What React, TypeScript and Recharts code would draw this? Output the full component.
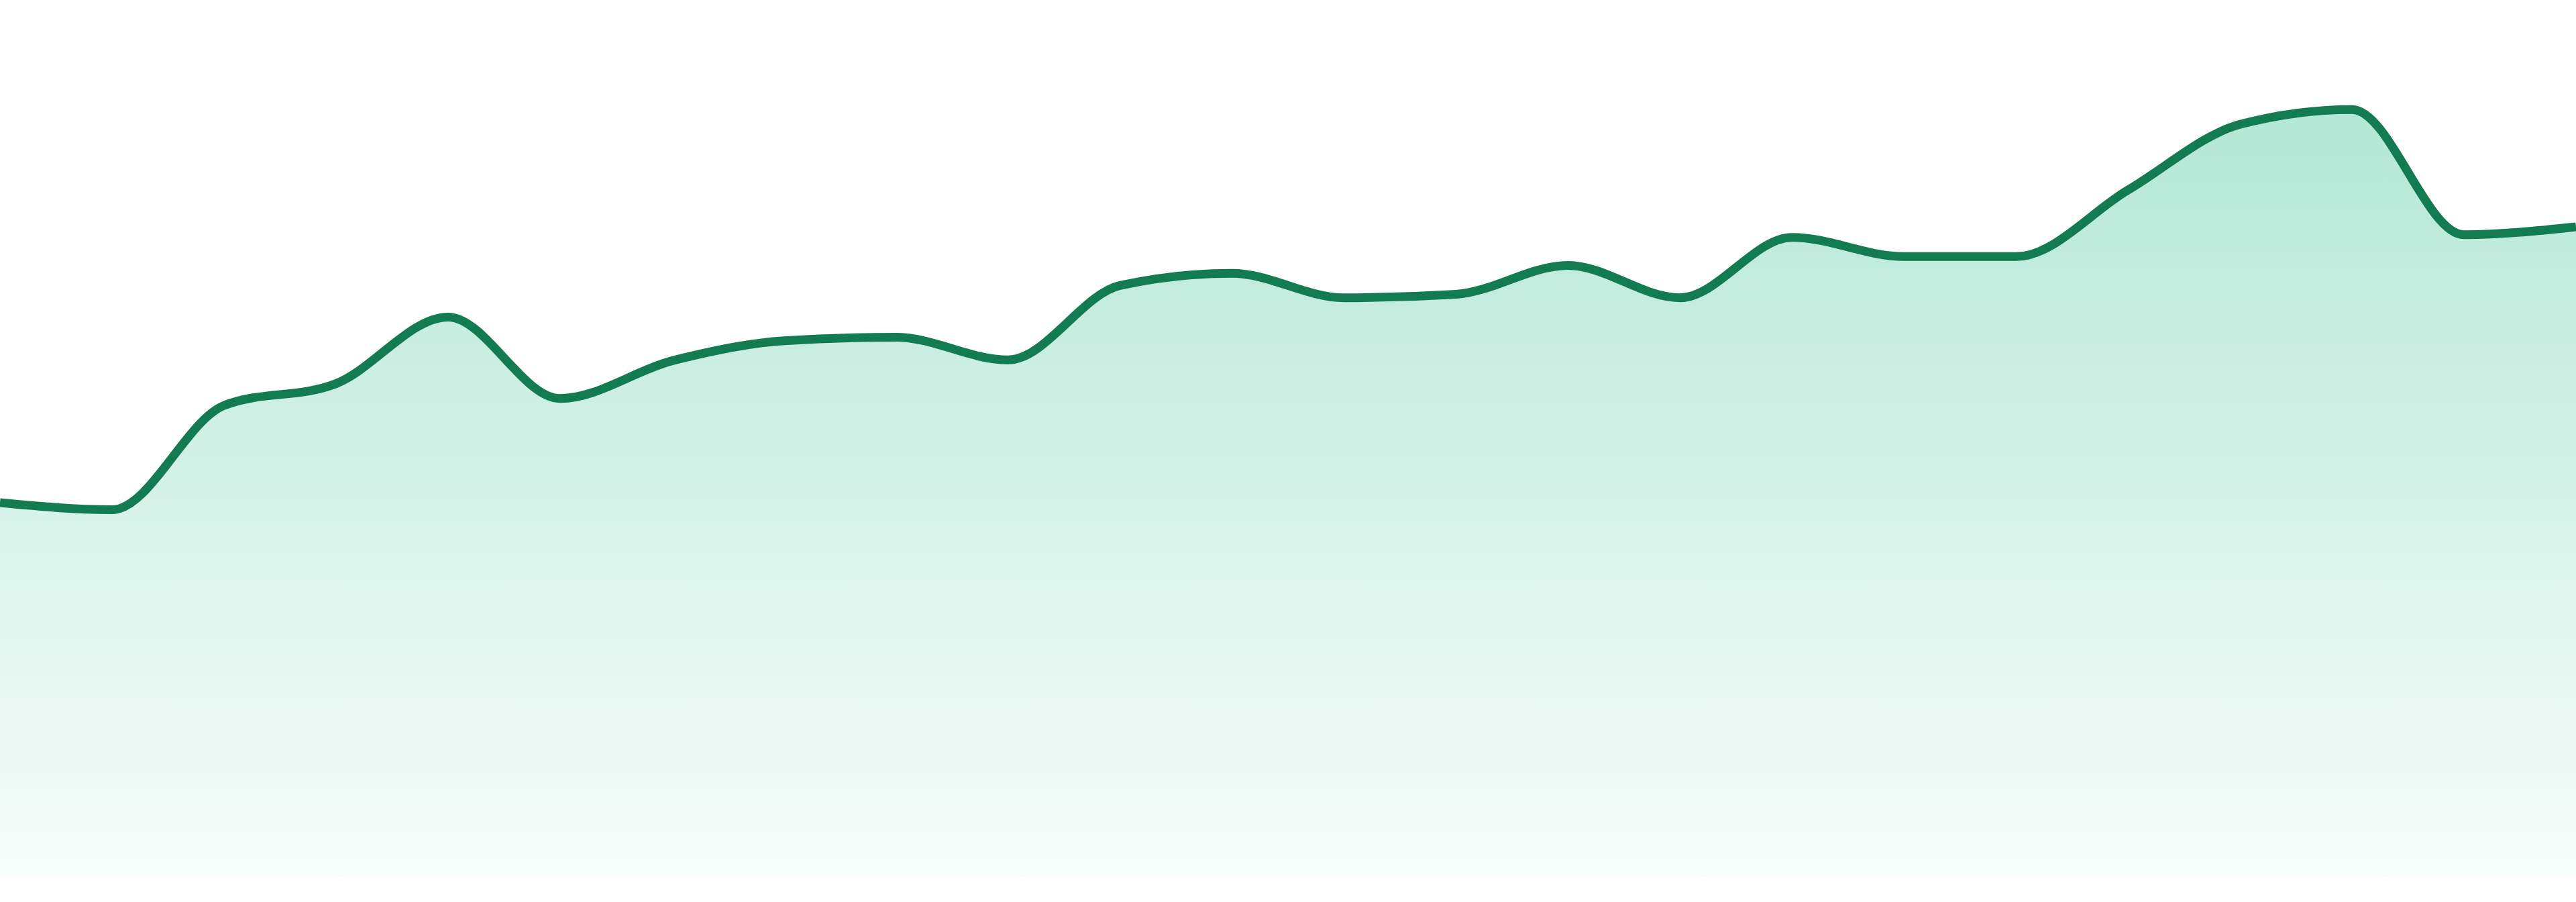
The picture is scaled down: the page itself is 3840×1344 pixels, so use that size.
import React from "react";
import { AreaChart, Area, XAxis, YAxis } from "recharts";

const categories: string[] = [
  "P1", "P2", "P3", "P4", "P5", "P6", "P7", "P8", "P9", "P10", "P11", "P12",
  "P13", "P14", "P15", "P16", "P17", "P18", "P19", "P20", "P21", "P22", "P23", "P24",
];

const seriesValues: number[] = [
  42.6, 41.8, 53.7, 56.2, 63.8, 54.5, 58.8, 61.1, 61.5, 58.9, 67.4, 68.8,
  66.0, 66.4, 69.7, 66.0, 72.9, 70.7, 70.7, 78.3, 85.8, 87.5, 73.2, 74.1,
];

const yDomain: [number, number] = [0, 100];

const data = categories.map((name, i) => ({ name, value: seriesValues[i] }));

export default function App() {
  return (
    <div style={{ position: "absolute", left: 0, top: 0, width: 3840, height: 1344, background: "#ffffff" }}>
      <AreaChart
        width={3840}
        height={1305}
        data={data}
        margin={{ top: 0, right: 0, bottom: 0, left: 0 }}
      >
        <defs>
          <linearGradient id="areaFill" x1="0" y1="0" x2="0" y2="1">
            <stop offset="0%" stopColor="#14b57c" stopOpacity={0.32} />
            <stop offset="100%" stopColor="#14b57c" stopOpacity={0.03} />
          </linearGradient>
        </defs>
        <XAxis dataKey="name" hide />
        <YAxis hide domain={yDomain} />
        <Area
          type="monotone"
          dataKey="value"
          stroke="#137b52"
          strokeWidth={13}
          fill="url(#areaFill)"
          fillOpacity={1}
          dot={false}
          activeDot={false}
          isAnimationActive={false}
        />
      </AreaChart>
    </div>
  );
}
